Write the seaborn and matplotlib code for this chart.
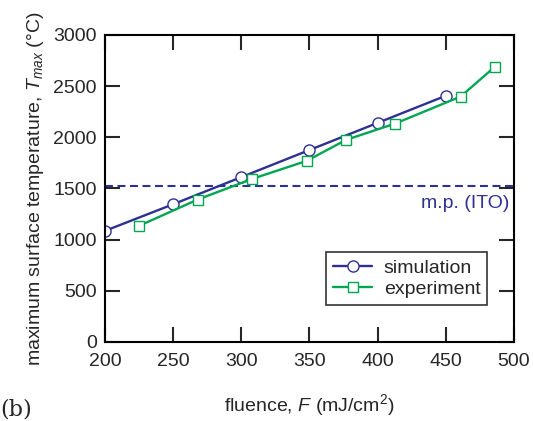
import pandas as pd
import matplotlib.pyplot as plt
import seaborn as sns

# simulation / experiment data
sim_fluence = [200, 250, 300, 350, 400, 450]
sim_temp = [1085, 1345, 1610, 1875, 2140, 2405]
exp_fluence = [225, 268, 308, 348, 377, 413, 461, 486]
exp_temp = [1134, 1391, 1593, 1769, 1975, 2134, 2398, 2688]
mp_ito = 1526

sns.set_style('ticks')
plt.rcParams['font.family'] = ['Liberation Sans', 'DejaVu Sans']
plt.rcParams['mathtext.fontset'] = 'custom'
plt.rcParams['mathtext.it'] = 'Liberation Sans:italic'
plt.rcParams['mathtext.rm'] = 'Liberation Sans'

blue = '#2e3192'
green = '#00a651'

sim = pd.DataFrame({'fluence': sim_fluence, 'temp': sim_temp})
exp = pd.DataFrame({'fluence': exp_fluence, 'temp': exp_temp})

fig = plt.figure(figsize=(5.33, 4.21), dpi=100)
ax = fig.add_axes([0.197, 0.188, 0.767, 0.729])

ax.axhline(mp_ito, color=blue, ls=(0, (3.8, 2.2)), lw=1.5, zorder=1)
sns.lineplot(data=sim, x='fluence', y='temp', ax=ax, color=blue, lw=1.7,
             marker='o', markersize=8, markerfacecolor='white',
             markeredgecolor=blue, markeredgewidth=1.0, label='simulation')
sns.lineplot(data=exp, x='fluence', y='temp', ax=ax, color=green, lw=1.7,
             marker='s', markersize=7.5, markerfacecolor='white',
             markeredgecolor=green, markeredgewidth=1.0, label='experiment')

ax.text(497, 1440, 'm.p. (ITO)', color=blue, fontsize=14, ha='right', va='top')

ax.set_xlim(200, 500)
ax.set_ylim(0, 3000)
ax.set_xticks(range(200, 501, 50))
ax.set_yticks(range(0, 3001, 500))
ax.tick_params(direction='in', length=11, width=1.5, top=True, right=True,
               labelsize=14)
ax.tick_params(axis='x', pad=8)
ax.tick_params(axis='y', pad=6)
for s in ax.spines.values():
    s.set_linewidth(1.5)
    s.set_color('black')

ax.set_xlabel('fluence, $F$ (mJ/cm$^2$)', fontsize=14, labelpad=16)
ax.set_ylabel('maximum surface temperature, $T_{max}$ (°C)', fontsize=14, labelpad=5)

leg = ax.legend(loc='lower right', bbox_to_anchor=(0.935, 0.12), fontsize=14,
                frameon=True, fancybox=False, edgecolor='black',
                handlelength=2.0, handletextpad=0.6, borderpad=0.35,
                labelspacing=0.2, borderaxespad=0)
leg.get_frame().set_linewidth(1.2)

fig.text(0.0, 0.012, '(b)', fontsize=16, family='DejaVu Serif')

plt.savefig('out.png', dpi=100)
